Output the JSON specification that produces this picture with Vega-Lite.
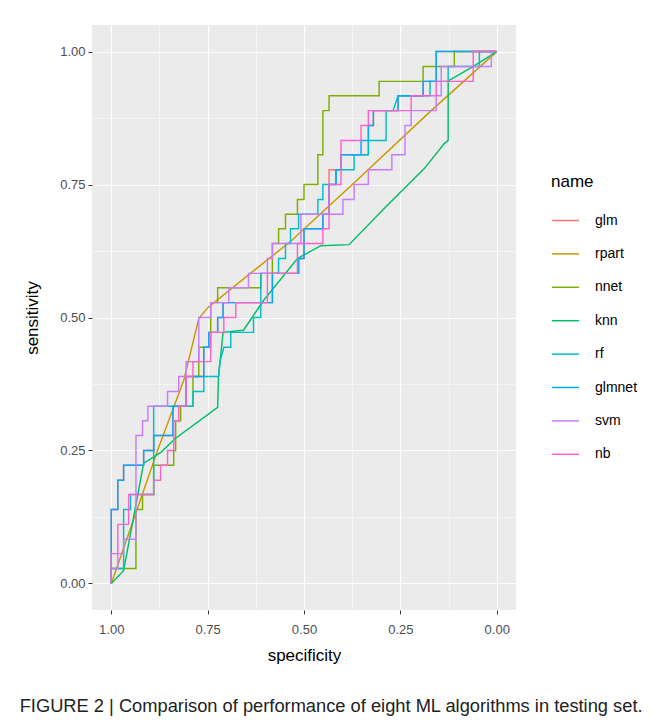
{
  "$schema": "https://vega.github.io/schema/vega-lite/v6.json",
  "width": 424,
  "height": 585,
  "padding": {"left": 19, "top": 25, "right": 5, "bottom": 5},
  "background": "white",
  "title": {
    "text": "FIGURE 2 | Comparison of performance of eight ML algorithms in testing set.",
    "orient": "bottom",
    "anchor": "start",
    "frame": "bounds",
    "font": "Liberation Sans",
    "fontSize": 18.3,
    "fontWeight": "normal",
    "color": "#222222",
    "offset": 35,
    "dx": -4
  },
  "data": {"values": [
    {"name":"glm","i":0,"spec":1,"sens":0},
    {"name":"glm","i":1,"spec":1,"sens":0.139},
    {"name":"glm","i":2,"spec":0.983,"sens":0.139},
    {"name":"glm","i":3,"spec":0.983,"sens":0.194},
    {"name":"glm","i":4,"spec":0.968,"sens":0.194},
    {"name":"glm","i":5,"spec":0.968,"sens":0.222},
    {"name":"glm","i":6,"spec":0.916,"sens":0.222},
    {"name":"glm","i":7,"spec":0.916,"sens":0.25},
    {"name":"glm","i":8,"spec":0.89,"sens":0.25},
    {"name":"glm","i":9,"spec":0.89,"sens":0.278},
    {"name":"glm","i":10,"spec":0.84,"sens":0.278},
    {"name":"glm","i":11,"spec":0.84,"sens":0.333},
    {"name":"glm","i":12,"spec":0.806,"sens":0.333},
    {"name":"glm","i":13,"spec":0.806,"sens":0.389},
    {"name":"glm","i":14,"spec":0.76,"sens":0.389},
    {"name":"glm","i":15,"spec":0.76,"sens":0.444},
    {"name":"glm","i":16,"spec":0.747,"sens":0.444},
    {"name":"glm","i":17,"spec":0.747,"sens":0.472},
    {"name":"glm","i":18,"spec":0.724,"sens":0.472},
    {"name":"glm","i":19,"spec":0.724,"sens":0.5},
    {"name":"glm","i":20,"spec":0.71,"sens":0.5},
    {"name":"glm","i":21,"spec":0.71,"sens":0.528},
    {"name":"glm","i":22,"spec":0.582,"sens":0.528},
    {"name":"glm","i":23,"spec":0.582,"sens":0.583},
    {"name":"glm","i":24,"spec":0.514,"sens":0.583},
    {"name":"glm","i":25,"spec":0.514,"sens":0.611},
    {"name":"glm","i":26,"spec":0.5,"sens":0.611},
    {"name":"glm","i":27,"spec":0.5,"sens":0.667},
    {"name":"glm","i":28,"spec":0.451,"sens":0.667},
    {"name":"glm","i":29,"spec":0.451,"sens":0.694},
    {"name":"glm","i":30,"spec":0.435,"sens":0.694},
    {"name":"glm","i":31,"spec":0.435,"sens":0.778},
    {"name":"glm","i":32,"spec":0.404,"sens":0.778},
    {"name":"glm","i":33,"spec":0.404,"sens":0.806},
    {"name":"glm","i":34,"spec":0.333,"sens":0.806},
    {"name":"glm","i":35,"spec":0.333,"sens":0.861},
    {"name":"glm","i":36,"spec":0.32,"sens":0.861},
    {"name":"glm","i":37,"spec":0.32,"sens":0.889},
    {"name":"glm","i":38,"spec":0.256,"sens":0.889},
    {"name":"glm","i":39,"spec":0.256,"sens":0.917},
    {"name":"glm","i":40,"spec":0.191,"sens":0.917},
    {"name":"glm","i":41,"spec":0.191,"sens":0.944},
    {"name":"glm","i":42,"spec":0.157,"sens":0.944},
    {"name":"glm","i":43,"spec":0.157,"sens":1},
    {"name":"glm","i":44,"spec":0,"sens":1},

    {"name":"rpart","i":0,"spec":1,"sens":0},
    {"name":"rpart","i":1,"spec":0.931,"sens":0.143},
    {"name":"rpart","i":2,"spec":0.88,"sens":0.25},
    {"name":"rpart","i":3,"spec":0.812,"sens":0.382},
    {"name":"rpart","i":4,"spec":0.773,"sens":0.498},
    {"name":"rpart","i":5,"spec":0.749,"sens":0.519},
    {"name":"rpart","i":6,"spec":0.639,"sens":0.583},
    {"name":"rpart","i":7,"spec":0.535,"sens":0.643},
    {"name":"rpart","i":8,"spec":0.36,"sens":0.76},
    {"name":"rpart","i":9,"spec":0.17,"sens":0.889},
    {"name":"rpart","i":10,"spec":0,"sens":1},

    {"name":"nnet","i":0,"spec":1,"sens":0},
    {"name":"nnet","i":1,"spec":1,"sens":0.028},
    {"name":"nnet","i":2,"spec":0.936,"sens":0.028},
    {"name":"nnet","i":3,"spec":0.936,"sens":0.139},
    {"name":"nnet","i":4,"spec":0.919,"sens":0.139},
    {"name":"nnet","i":5,"spec":0.919,"sens":0.167},
    {"name":"nnet","i":6,"spec":0.89,"sens":0.167},
    {"name":"nnet","i":7,"spec":0.89,"sens":0.222},
    {"name":"nnet","i":8,"spec":0.838,"sens":0.222},
    {"name":"nnet","i":9,"spec":0.838,"sens":0.25},
    {"name":"nnet","i":10,"spec":0.833,"sens":0.25},
    {"name":"nnet","i":11,"spec":0.833,"sens":0.306},
    {"name":"nnet","i":12,"spec":0.82,"sens":0.306},
    {"name":"nnet","i":13,"spec":0.82,"sens":0.333},
    {"name":"nnet","i":14,"spec":0.788,"sens":0.333},
    {"name":"nnet","i":15,"spec":0.788,"sens":0.389},
    {"name":"nnet","i":16,"spec":0.773,"sens":0.389},
    {"name":"nnet","i":17,"spec":0.773,"sens":0.444},
    {"name":"nnet","i":18,"spec":0.742,"sens":0.444},
    {"name":"nnet","i":19,"spec":0.742,"sens":0.528},
    {"name":"nnet","i":20,"spec":0.724,"sens":0.528},
    {"name":"nnet","i":21,"spec":0.724,"sens":0.556},
    {"name":"nnet","i":22,"spec":0.612,"sens":0.556},
    {"name":"nnet","i":23,"spec":0.612,"sens":0.583},
    {"name":"nnet","i":24,"spec":0.582,"sens":0.583},
    {"name":"nnet","i":25,"spec":0.582,"sens":0.639},
    {"name":"nnet","i":26,"spec":0.566,"sens":0.639},
    {"name":"nnet","i":27,"spec":0.566,"sens":0.667},
    {"name":"nnet","i":28,"spec":0.548,"sens":0.667},
    {"name":"nnet","i":29,"spec":0.548,"sens":0.694},
    {"name":"nnet","i":30,"spec":0.517,"sens":0.694},
    {"name":"nnet","i":31,"spec":0.517,"sens":0.722},
    {"name":"nnet","i":32,"spec":0.5,"sens":0.722},
    {"name":"nnet","i":33,"spec":0.5,"sens":0.75},
    {"name":"nnet","i":34,"spec":0.464,"sens":0.75},
    {"name":"nnet","i":35,"spec":0.464,"sens":0.806},
    {"name":"nnet","i":36,"spec":0.451,"sens":0.806},
    {"name":"nnet","i":37,"spec":0.451,"sens":0.889},
    {"name":"nnet","i":38,"spec":0.435,"sens":0.889},
    {"name":"nnet","i":39,"spec":0.435,"sens":0.917},
    {"name":"nnet","i":40,"spec":0.305,"sens":0.917},
    {"name":"nnet","i":41,"spec":0.305,"sens":0.944},
    {"name":"nnet","i":42,"spec":0.191,"sens":0.944},
    {"name":"nnet","i":43,"spec":0.191,"sens":0.972},
    {"name":"nnet","i":44,"spec":0.11,"sens":0.972},
    {"name":"nnet","i":45,"spec":0.11,"sens":1},
    {"name":"nnet","i":46,"spec":0,"sens":1},

    {"name":"knn","i":0,"spec":1,"sens":0},
    {"name":"knn","i":1,"spec":0.968,"sens":0.024},
    {"name":"knn","i":2,"spec":0.916,"sens":0.226},
    {"name":"knn","i":3,"spec":0.872,"sens":0.246},
    {"name":"knn","i":4,"spec":0.833,"sens":0.273},
    {"name":"knn","i":5,"spec":0.724,"sens":0.331},
    {"name":"knn","i":6,"spec":0.722,"sens":0.387},
    {"name":"knn","i":7,"spec":0.71,"sens":0.472},
    {"name":"knn","i":8,"spec":0.657,"sens":0.476},
    {"name":"knn","i":9,"spec":0.605,"sens":0.532},
    {"name":"knn","i":10,"spec":0.517,"sens":0.611},
    {"name":"knn","i":11,"spec":0.456,"sens":0.635},
    {"name":"knn","i":12,"spec":0.383,"sens":0.637},
    {"name":"knn","i":13,"spec":0.292,"sens":0.705},
    {"name":"knn","i":14,"spec":0.188,"sens":0.78},
    {"name":"knn","i":15,"spec":0.136,"sens":0.827},
    {"name":"knn","i":16,"spec":0.126,"sens":0.833},
    {"name":"knn","i":17,"spec":0.126,"sens":0.945},
    {"name":"knn","i":18,"spec":0.066,"sens":0.97},
    {"name":"knn","i":19,"spec":0,"sens":1},

    {"name":"rf","i":0,"spec":1,"sens":0},
    {"name":"rf","i":1,"spec":1,"sens":0.028},
    {"name":"rf","i":2,"spec":0.968,"sens":0.028},
    {"name":"rf","i":3,"spec":0.968,"sens":0.139},
    {"name":"rf","i":4,"spec":0.95,"sens":0.139},
    {"name":"rf","i":5,"spec":0.95,"sens":0.167},
    {"name":"rf","i":6,"spec":0.89,"sens":0.167},
    {"name":"rf","i":7,"spec":0.89,"sens":0.333},
    {"name":"rf","i":8,"spec":0.788,"sens":0.333},
    {"name":"rf","i":9,"spec":0.788,"sens":0.361},
    {"name":"rf","i":10,"spec":0.76,"sens":0.361},
    {"name":"rf","i":11,"spec":0.76,"sens":0.389},
    {"name":"rf","i":12,"spec":0.722,"sens":0.389},
    {"name":"rf","i":13,"spec":0.718,"sens":0.417},
    {"name":"rf","i":14,"spec":0.708,"sens":0.444},
    {"name":"rf","i":15,"spec":0.69,"sens":0.444},
    {"name":"rf","i":16,"spec":0.69,"sens":0.472},
    {"name":"rf","i":17,"spec":0.631,"sens":0.472},
    {"name":"rf","i":18,"spec":0.631,"sens":0.5},
    {"name":"rf","i":19,"spec":0.612,"sens":0.5},
    {"name":"rf","i":20,"spec":0.612,"sens":0.583},
    {"name":"rf","i":21,"spec":0.566,"sens":0.583},
    {"name":"rf","i":22,"spec":0.566,"sens":0.611},
    {"name":"rf","i":23,"spec":0.548,"sens":0.611},
    {"name":"rf","i":24,"spec":0.548,"sens":0.639},
    {"name":"rf","i":25,"spec":0.535,"sens":0.639},
    {"name":"rf","i":26,"spec":0.535,"sens":0.667},
    {"name":"rf","i":27,"spec":0.514,"sens":0.667},
    {"name":"rf","i":28,"spec":0.514,"sens":0.694},
    {"name":"rf","i":29,"spec":0.464,"sens":0.694},
    {"name":"rf","i":30,"spec":0.464,"sens":0.722},
    {"name":"rf","i":31,"spec":0.451,"sens":0.722},
    {"name":"rf","i":32,"spec":0.451,"sens":0.75},
    {"name":"rf","i":33,"spec":0.417,"sens":0.75},
    {"name":"rf","i":34,"spec":0.417,"sens":0.778},
    {"name":"rf","i":35,"spec":0.37,"sens":0.778},
    {"name":"rf","i":36,"spec":0.37,"sens":0.806},
    {"name":"rf","i":37,"spec":0.333,"sens":0.806},
    {"name":"rf","i":38,"spec":0.333,"sens":0.833},
    {"name":"rf","i":39,"spec":0.287,"sens":0.833},
    {"name":"rf","i":40,"spec":0.287,"sens":0.889},
    {"name":"rf","i":41,"spec":0.269,"sens":0.889},
    {"name":"rf","i":42,"spec":0.256,"sens":0.917},
    {"name":"rf","i":43,"spec":0.173,"sens":0.917},
    {"name":"rf","i":44,"spec":0.173,"sens":0.944},
    {"name":"rf","i":45,"spec":0.126,"sens":0.944},
    {"name":"rf","i":46,"spec":0.126,"sens":0.972},
    {"name":"rf","i":47,"spec":0.045,"sens":0.972},
    {"name":"rf","i":48,"spec":0.045,"sens":1},
    {"name":"rf","i":49,"spec":0,"sens":1},

    {"name":"glmnet","i":0,"spec":1,"sens":0},
    {"name":"glmnet","i":1,"spec":1,"sens":0.139},
    {"name":"glmnet","i":2,"spec":0.983,"sens":0.139},
    {"name":"glmnet","i":3,"spec":0.983,"sens":0.194},
    {"name":"glmnet","i":4,"spec":0.968,"sens":0.194},
    {"name":"glmnet","i":5,"spec":0.968,"sens":0.222},
    {"name":"glmnet","i":6,"spec":0.916,"sens":0.222},
    {"name":"glmnet","i":7,"spec":0.916,"sens":0.25},
    {"name":"glmnet","i":8,"spec":0.89,"sens":0.25},
    {"name":"glmnet","i":9,"spec":0.89,"sens":0.278},
    {"name":"glmnet","i":10,"spec":0.84,"sens":0.278},
    {"name":"glmnet","i":11,"spec":0.84,"sens":0.333},
    {"name":"glmnet","i":12,"spec":0.806,"sens":0.333},
    {"name":"glmnet","i":13,"spec":0.806,"sens":0.389},
    {"name":"glmnet","i":14,"spec":0.76,"sens":0.389},
    {"name":"glmnet","i":15,"spec":0.76,"sens":0.444},
    {"name":"glmnet","i":16,"spec":0.747,"sens":0.444},
    {"name":"glmnet","i":17,"spec":0.747,"sens":0.472},
    {"name":"glmnet","i":18,"spec":0.724,"sens":0.472},
    {"name":"glmnet","i":19,"spec":0.724,"sens":0.5},
    {"name":"glmnet","i":20,"spec":0.71,"sens":0.5},
    {"name":"glmnet","i":21,"spec":0.71,"sens":0.528},
    {"name":"glmnet","i":22,"spec":0.582,"sens":0.528},
    {"name":"glmnet","i":23,"spec":0.582,"sens":0.583},
    {"name":"glmnet","i":24,"spec":0.514,"sens":0.583},
    {"name":"glmnet","i":25,"spec":0.514,"sens":0.611},
    {"name":"glmnet","i":26,"spec":0.5,"sens":0.611},
    {"name":"glmnet","i":27,"spec":0.5,"sens":0.667},
    {"name":"glmnet","i":28,"spec":0.451,"sens":0.667},
    {"name":"glmnet","i":29,"spec":0.451,"sens":0.694},
    {"name":"glmnet","i":30,"spec":0.435,"sens":0.694},
    {"name":"glmnet","i":31,"spec":0.435,"sens":0.75},
    {"name":"glmnet","i":32,"spec":0.417,"sens":0.75},
    {"name":"glmnet","i":33,"spec":0.417,"sens":0.778},
    {"name":"glmnet","i":34,"spec":0.404,"sens":0.778},
    {"name":"glmnet","i":35,"spec":0.404,"sens":0.806},
    {"name":"glmnet","i":36,"spec":0.352,"sens":0.806},
    {"name":"glmnet","i":37,"spec":0.352,"sens":0.833},
    {"name":"glmnet","i":38,"spec":0.333,"sens":0.833},
    {"name":"glmnet","i":39,"spec":0.333,"sens":0.861},
    {"name":"glmnet","i":40,"spec":0.32,"sens":0.861},
    {"name":"glmnet","i":41,"spec":0.32,"sens":0.889},
    {"name":"glmnet","i":42,"spec":0.256,"sens":0.889},
    {"name":"glmnet","i":43,"spec":0.256,"sens":0.917},
    {"name":"glmnet","i":44,"spec":0.191,"sens":0.917},
    {"name":"glmnet","i":45,"spec":0.191,"sens":0.944},
    {"name":"glmnet","i":46,"spec":0.157,"sens":0.944},
    {"name":"glmnet","i":47,"spec":0.157,"sens":1},
    {"name":"glmnet","i":48,"spec":0,"sens":1},

    {"name":"svm","i":0,"spec":1,"sens":0},
    {"name":"svm","i":1,"spec":1,"sens":0.028},
    {"name":"svm","i":2,"spec":0.983,"sens":0.028},
    {"name":"svm","i":3,"spec":0.983,"sens":0.056},
    {"name":"svm","i":4,"spec":0.968,"sens":0.056},
    {"name":"svm","i":5,"spec":0.968,"sens":0.083},
    {"name":"svm","i":6,"spec":0.936,"sens":0.083},
    {"name":"svm","i":7,"spec":0.936,"sens":0.278},
    {"name":"svm","i":8,"spec":0.919,"sens":0.278},
    {"name":"svm","i":9,"spec":0.919,"sens":0.306},
    {"name":"svm","i":10,"spec":0.905,"sens":0.306},
    {"name":"svm","i":11,"spec":0.905,"sens":0.333},
    {"name":"svm","i":12,"spec":0.854,"sens":0.333},
    {"name":"svm","i":13,"spec":0.854,"sens":0.361},
    {"name":"svm","i":14,"spec":0.825,"sens":0.361},
    {"name":"svm","i":15,"spec":0.825,"sens":0.389},
    {"name":"svm","i":16,"spec":0.806,"sens":0.389},
    {"name":"svm","i":17,"spec":0.806,"sens":0.417},
    {"name":"svm","i":18,"spec":0.773,"sens":0.417},
    {"name":"svm","i":19,"spec":0.773,"sens":0.5},
    {"name":"svm","i":20,"spec":0.742,"sens":0.5},
    {"name":"svm","i":21,"spec":0.742,"sens":0.528},
    {"name":"svm","i":22,"spec":0.695,"sens":0.528},
    {"name":"svm","i":23,"spec":0.695,"sens":0.556},
    {"name":"svm","i":24,"spec":0.644,"sens":0.556},
    {"name":"svm","i":25,"spec":0.644,"sens":0.583},
    {"name":"svm","i":26,"spec":0.595,"sens":0.583},
    {"name":"svm","i":27,"spec":0.595,"sens":0.611},
    {"name":"svm","i":28,"spec":0.582,"sens":0.611},
    {"name":"svm","i":29,"spec":0.582,"sens":0.639},
    {"name":"svm","i":30,"spec":0.508,"sens":0.639},
    {"name":"svm","i":31,"spec":0.508,"sens":0.694},
    {"name":"svm","i":32,"spec":0.399,"sens":0.694},
    {"name":"svm","i":33,"spec":0.399,"sens":0.722},
    {"name":"svm","i":34,"spec":0.37,"sens":0.722},
    {"name":"svm","i":35,"spec":0.37,"sens":0.75},
    {"name":"svm","i":36,"spec":0.333,"sens":0.75},
    {"name":"svm","i":37,"spec":0.333,"sens":0.778},
    {"name":"svm","i":38,"spec":0.272,"sens":0.778},
    {"name":"svm","i":39,"spec":0.272,"sens":0.806},
    {"name":"svm","i":40,"spec":0.238,"sens":0.806},
    {"name":"svm","i":41,"spec":0.238,"sens":0.861},
    {"name":"svm","i":42,"spec":0.222,"sens":0.861},
    {"name":"svm","i":43,"spec":0.222,"sens":0.889},
    {"name":"svm","i":44,"spec":0.157,"sens":0.889},
    {"name":"svm","i":45,"spec":0.157,"sens":0.917},
    {"name":"svm","i":46,"spec":0.144,"sens":0.917},
    {"name":"svm","i":47,"spec":0.144,"sens":0.972},
    {"name":"svm","i":48,"spec":0.014,"sens":0.972},
    {"name":"svm","i":49,"spec":0.014,"sens":1},
    {"name":"svm","i":50,"spec":0,"sens":1},

    {"name":"nb","i":0,"spec":1,"sens":0},
    {"name":"nb","i":1,"spec":1,"sens":0.056},
    {"name":"nb","i":2,"spec":0.983,"sens":0.056},
    {"name":"nb","i":3,"spec":0.983,"sens":0.111},
    {"name":"nb","i":4,"spec":0.955,"sens":0.111},
    {"name":"nb","i":5,"spec":0.955,"sens":0.167},
    {"name":"nb","i":6,"spec":0.89,"sens":0.167},
    {"name":"nb","i":7,"spec":0.89,"sens":0.194},
    {"name":"nb","i":8,"spec":0.872,"sens":0.194},
    {"name":"nb","i":9,"spec":0.872,"sens":0.222},
    {"name":"nb","i":10,"spec":0.854,"sens":0.222},
    {"name":"nb","i":11,"spec":0.854,"sens":0.25},
    {"name":"nb","i":12,"spec":0.838,"sens":0.25},
    {"name":"nb","i":13,"spec":0.838,"sens":0.306},
    {"name":"nb","i":14,"spec":0.825,"sens":0.306},
    {"name":"nb","i":15,"spec":0.825,"sens":0.333},
    {"name":"nb","i":16,"spec":0.806,"sens":0.333},
    {"name":"nb","i":17,"spec":0.806,"sens":0.389},
    {"name":"nb","i":18,"spec":0.788,"sens":0.389},
    {"name":"nb","i":19,"spec":0.788,"sens":0.417},
    {"name":"nb","i":20,"spec":0.742,"sens":0.417},
    {"name":"nb","i":21,"spec":0.742,"sens":0.472},
    {"name":"nb","i":22,"spec":0.708,"sens":0.472},
    {"name":"nb","i":23,"spec":0.708,"sens":0.5},
    {"name":"nb","i":24,"spec":0.677,"sens":0.5},
    {"name":"nb","i":25,"spec":0.677,"sens":0.528},
    {"name":"nb","i":26,"spec":0.595,"sens":0.528},
    {"name":"nb","i":27,"spec":0.595,"sens":0.583},
    {"name":"nb","i":28,"spec":0.517,"sens":0.583},
    {"name":"nb","i":29,"spec":0.517,"sens":0.639},
    {"name":"nb","i":30,"spec":0.451,"sens":0.639},
    {"name":"nb","i":31,"spec":0.451,"sens":0.667},
    {"name":"nb","i":32,"spec":0.435,"sens":0.667},
    {"name":"nb","i":33,"spec":0.435,"sens":0.75},
    {"name":"nb","i":34,"spec":0.404,"sens":0.75},
    {"name":"nb","i":35,"spec":0.404,"sens":0.833},
    {"name":"nb","i":36,"spec":0.352,"sens":0.833},
    {"name":"nb","i":37,"spec":0.352,"sens":0.861},
    {"name":"nb","i":38,"spec":0.333,"sens":0.861},
    {"name":"nb","i":39,"spec":0.333,"sens":0.889},
    {"name":"nb","i":40,"spec":0.222,"sens":0.889},
    {"name":"nb","i":41,"spec":0.222,"sens":0.917},
    {"name":"nb","i":42,"spec":0.157,"sens":0.917},
    {"name":"nb","i":43,"spec":0.157,"sens":0.944},
    {"name":"nb","i":44,"spec":0.061,"sens":0.944},
    {"name":"nb","i":45,"spec":0.061,"sens":1},
    {"name":"nb","i":46,"spec":0,"sens":1}
  ]},
  "mark": {"type": "line", "strokeWidth": 1.45, "clip": true},
  "encoding": {
    "x": {
      "field": "spec", "type": "quantitative",
      "scale": {"domain": [-0.05, 1.05], "reverse": true, "nice": false, "zero": false},
      "axis": {
        "title": "specificity",
        "values": [0, 0.125, 0.25, 0.375, 0.5, 0.625, 0.75, 0.875, 1],
        "labelExpr": "(datum.value*4)%1==0 ? format(datum.value,'.2f') : ''",
        "gridWidth": {"condition": {"test": "(datum.value*4)%1==0", "value": 1.1}, "value": 0.5},
        "tickOpacity": {"condition": {"test": "(datum.value*4)%1==0", "value": 1}, "value": 0},
        "labelPadding": 9,
        "titlePadding": 11
      }
    },
    "y": {
      "field": "sens", "type": "quantitative",
      "scale": {"domain": [-0.05, 1.05], "nice": false, "zero": false},
      "axis": {
        "title": "sensitivity",
        "values": [0, 0.125, 0.25, 0.375, 0.5, 0.625, 0.75, 0.875, 1],
        "labelExpr": "(datum.value*4)%1==0 ? format(datum.value,'.2f') : ''",
        "gridWidth": {"condition": {"test": "(datum.value*4)%1==0", "value": 1.1}, "value": 0.5},
        "tickOpacity": {"condition": {"test": "(datum.value*4)%1==0", "value": 1}, "value": 0},
        "labelPadding": 3,
        "titlePadding": 18
      }
    },
    "color": {
      "field": "name", "type": "nominal",
      "scale": {
        "domain": ["glm", "rpart", "nnet", "knn", "rf", "glmnet", "svm", "nb"],
        "range": ["#F8766D", "#CD9600", "#7CAE00", "#00BE67", "#00BFC4", "#00A9FF", "#C77CFF", "#FF61CC"]
      },
      "legend": {
        "title": "name",
        "orient": "none",
        "legendX": 459,
        "legendY": 149,
        "symbolType": "stroke",
        "symbolSize": 729,
        "symbolStrokeWidth": 1.5,
        "rowPadding": 11.4,
        "labelOffset": 15,
        "titlePadding": 15
      }
    },
    "order": {"field": "i", "type": "quantitative"}
  },
  "config": {
    "view": {"fill": "#EBEBEB", "stroke": null},
    "axis": {
      "domain": false,
      "gridColor": "#FFFFFF",
      "tickColor": "#333333",
      "tickSize": 4,
      "labelColor": "#4D4D4D",
      "labelFont": "Liberation Sans",
      "labelFontSize": 13,
      "titleFont": "Liberation Sans",
      "titleFontSize": 17,
      "titleFontWeight": "normal",
      "titleColor": "#000000"
    },
    "legend": {
      "titleFont": "Liberation Sans",
      "titleFontSize": 17,
      "titleFontWeight": "normal",
      "titleColor": "#000000",
      "labelFont": "Liberation Sans",
      "labelFontSize": 14,
      "labelColor": "#000000"
    }
  }
}
